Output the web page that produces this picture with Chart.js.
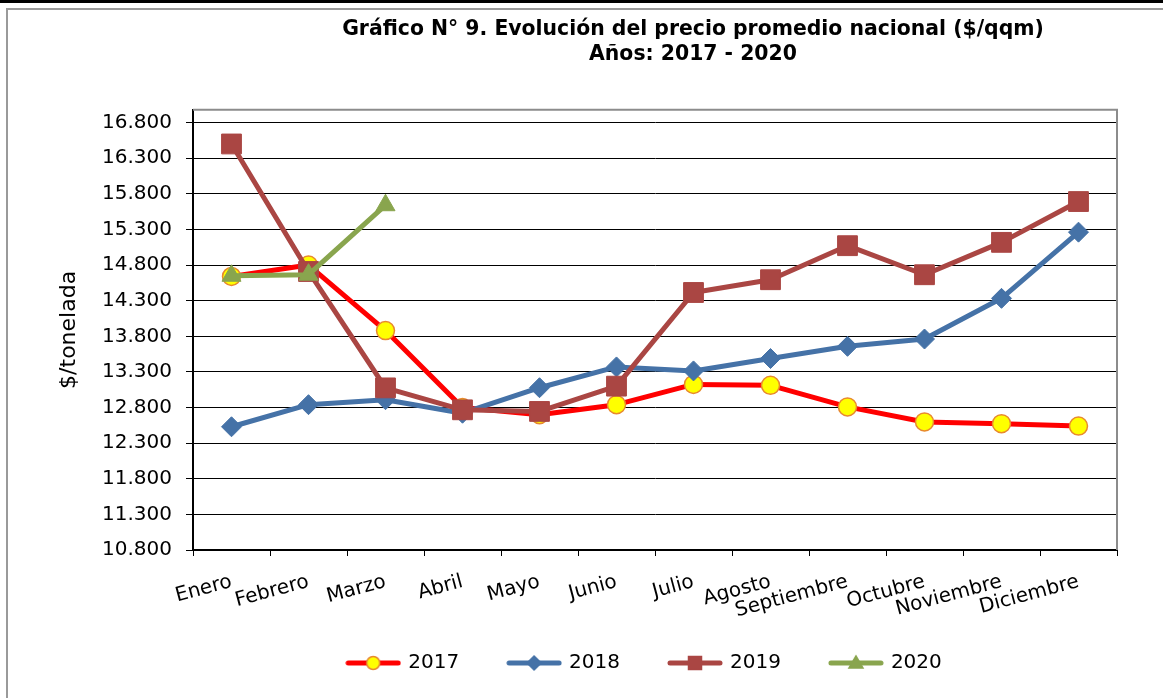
<!DOCTYPE html>
<html>
<head>
<meta charset="utf-8">
<script src="https://cdn.jsdelivr.net/npm/chart.js@4.4.0/dist/chart.umd.min.js"></script>
<style>
  html, body { margin: 0; padding: 0; background: #fff; }
  #wrap { position: relative; width: 1163px; height: 698px; overflow: hidden; }
  #c { position: absolute; left: 0; top: 0; }
  .topbar { position: absolute; left: 0; top: 0; width: 1163px; height: 3px; background: #000; }
  .frame { position: absolute; left: 6px; top: 8px; width: 1200px; height: 720px;
           border-left: 2px solid #9a9a9a; border-top: 2px solid #9a9a9a; }
</style>
</head>
<body>
<div id="wrap">
  <canvas id="c" width="1163" height="698"></canvas>
  <div class="topbar"></div>
  <div class="frame"></div>
</div>
<script>
// months
var meses = ["Enero", "Febrero", "Marzo", "Abril", "Mayo", "Junio", "Julio",
  "Agosto", "Septiembre", "Octubre", "Noviembre", "Diciembre"];

// precio promedio ($/tonelada)
var precio2017 = [14640, 14800, 13880, 12800, 12700, 12840, 13125, 13112, 12809, 12598, 12573, 12540];
var precio2018 = [12530, 12840, 12910, 12720, 13078, 13370, 13314, 13488, 13659, 13762, 14333, 15262];
var precio2019 = [16500, 14710, 13076, 12768, 12745, 13100, 14415, 14594, 15072, 14664, 15119, 15692];
var precio2020 = [14650, 14665, 15640];

// y axis
var yTicks = [10800, 11300, 11800, 12300, 12800, 13300, 13800, 14300, 14800, 15300, 15800, 16300, 16800];
var yMin = 10800;
var yMax = 16980;

var tituloLineas = ["Gráfico N° 9. Evolución del precio promedio nacional ($/qqm)", "Años: 2017 - 2020"];
var ejeY = "$/tonelada";

Chart.defaults.font.family = "'DejaVu Sans', sans-serif";
Chart.defaults.color = "#000";

function puntos(n) {
  return String(n).replace(/\B(?=(\d{3})+(?!\d))/g, ".");
}

// small line+marker picture for the legend
function iconoLeyenda(ds) {
  var cv = document.createElement("canvas");
  cv.width = 56;
  cv.height = 24;
  var g = cv.getContext("2d");
  g.strokeStyle = ds.borderColor;
  g.lineWidth = 5;
  g.lineCap = "round";
  g.beginPath();
  g.moveTo(3, 12);
  g.lineTo(53, 12);
  g.stroke();

  g.fillStyle = ds.pointBackgroundColor;
  g.strokeStyle = ds.pointBorderColor;
  g.lineWidth = 1.5;
  g.beginPath();
  if (ds.pointStyle === "circle") {
    g.arc(28, 12, 6.5, 0, Math.PI * 2);
  } else if (ds.pointStyle === "rectRot") {
    g.moveTo(28, 5); g.lineTo(35, 12); g.lineTo(28, 19); g.lineTo(21, 12); g.closePath();
  } else if (ds.pointStyle === "rect") {
    g.rect(21.5, 5.5, 13, 13);
  } else {
    g.moveTo(28, 5); g.lineTo(35, 17); g.lineTo(21, 17); g.closePath();
  }
  g.fill();
  g.stroke();
  return cv;
}

// plot area top / right border
var marcoPlot = {
  id: "marcoPlot",
  beforeDatasetsDraw: function (chart) {
    var a = chart.chartArea;
    var ctx = chart.ctx;
    ctx.save();
    ctx.strokeStyle = "#8c8c8c";
    ctx.lineWidth = 2;
    ctx.beginPath();
    ctx.moveTo(a.left, a.top);
    ctx.lineTo(a.right, a.top);
    ctx.lineTo(a.right, a.bottom);
    ctx.stroke();
    ctx.restore();
  }
};

// move title and legend where the original has them
var moverCajas = {
  id: "moverCajas",
  afterLayout: function (chart) {
    chart.titleBlock.left = 223;
    chart.titleBlock.right = 1163;
    chart.legend.left = 127;
    chart.legend.right = 1163;
    chart.legend.top = 603;
  }
};

new Chart(document.getElementById("c"), {
  type: "line",
  data: {
    labels: meses,
    datasets: [
      {
        label: "2017",
        data: precio2017,
        borderColor: "#ff0000",
        borderWidth: 5,
        pointStyle: "circle",
        pointRadius: 9,
        pointBackgroundColor: "#ffff00",
        pointBorderColor: "#e8892e",
        pointBorderWidth: 1.5,
        order: 3
      },
      {
        label: "2018",
        data: precio2018,
        borderColor: "#4572a7",
        borderWidth: 5,
        pointStyle: "rectRot",
        pointRadius: 10,
        pointBackgroundColor: "#4572a7",
        pointBorderColor: "#4572a7",
        pointBorderWidth: 1,
        order: 2
      },
      {
        label: "2019",
        data: precio2019,
        borderColor: "#aa4643",
        borderWidth: 5,
        pointStyle: "rect",
        pointRadius: 14,
        pointBackgroundColor: "#aa4643",
        pointBorderColor: "#aa4643",
        pointBorderWidth: 1,
        order: 1
      },
      {
        label: "2020",
        data: precio2020,
        borderColor: "#89a54e",
        borderWidth: 5,
        pointStyle: "triangle",
        pointRadius: 11,
        pointBackgroundColor: "#89a54e",
        pointBorderColor: "#89a54e",
        pointBorderWidth: 1,
        order: 0
      }
    ]
  },
  options: {
    responsive: false,
    maintainAspectRatio: false,
    animation: false,
    elements: {
      line: { tension: 0, borderJoinStyle: "round", borderCapStyle: "round", fill: false },
      point: { hoverRadius: 9 }
    },
    layout: { padding: { left: 10, right: 46, top: 0, bottom: 8 } },
    plugins: {
      title: {
        display: true,
        text: tituloLineas,
        color: "#000",
        font: { size: 20.4, weight: "bold", lineHeight: 1.22 },
        padding: { top: 17, bottom: 43 }
      },
      legend: {
        position: "bottom",
        maxHeight: 40,
        labels: {
          usePointStyle: true,
          pointStyleWidth: 50,
          padding: 50,
          color: "#000",
          font: { size: 20 },
          generateLabels: function (chart) {
            return chart.data.datasets.map(function (ds, i) {
              return {
                text: ds.label,
                pointStyle: iconoLeyenda(ds),
                fillStyle: ds.borderColor,
                strokeStyle: ds.borderColor,
                lineWidth: 0,
                hidden: false,
                datasetIndex: i
              };
            });
          }
        }
      },
      tooltip: { enabled: false }
    },
    scales: {
      x: {
        offset: true,
        grid: { offset: true, drawOnChartArea: false, drawTicks: true, tickLength: 6, color: "#000" },
        border: { display: true, color: "#000", width: 2 },
        ticks: { autoSkip: false, minRotation: 15, maxRotation: 15, padding: 14, color: "#000", font: { size: 20 } },
        afterFit: function (s) { s.height = 100; }
      },
      y: {
        min: yMin,
        max: yMax,
        afterBuildTicks: function (s) {
          s.ticks = yTicks.map(function (v) { return { value: v }; });
        },
        grid: { color: "#000", lineWidth: 1, tickLength: 7 },
        border: { display: true, color: "#000", width: 2 },
        ticks: {
          padding: 14,
          color: "#000",
          font: { size: 20 },
          callback: function (v) { return puntos(v); }
        },
        title: {
          display: true,
          text: ejeY,
          color: "#000",
          font: { size: 22 },
          padding: { top: 46, bottom: 0 }
        },
        afterFit: function (s) { s.width = 183; }
      }
    }
  },
  plugins: [marcoPlot, moverCajas]
});
</script>
</body>
</html>
